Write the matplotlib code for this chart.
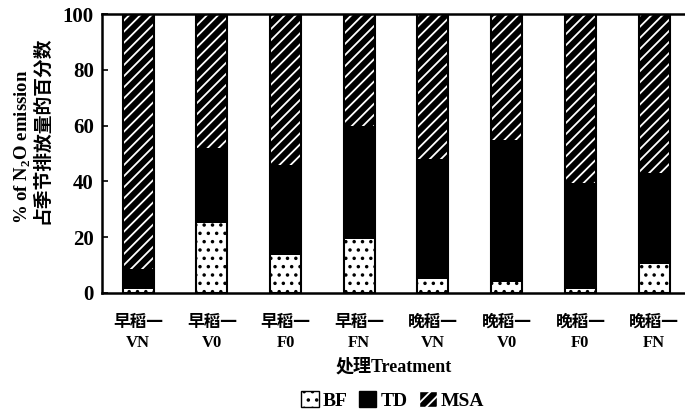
import numpy as np
import matplotlib
matplotlib.use('Agg')
import matplotlib.pyplot as plt
from matplotlib.patches import Patch

plt.rcParams['font.family'] = ['Liberation Serif', 'Noto Sans CJK SC']
plt.rcParams['font.weight'] = 'bold'
plt.rcParams['mathtext.fontset'] = 'custom'
plt.rcParams['mathtext.rm'] = 'Liberation Serif:bold'
plt.rcParams['mathtext.bf'] = 'Liberation Serif:bold'
plt.rcParams['hatch.linewidth'] = 1.3

treatments = ['早稻一\nVN', '早稻一\nV0', '早稻一\nF0', '早稻一\nFN',
              '晚稻一\nVN', '晚稻一\nV0', '晚稻一\nF0', '晚稻一\nFN']
bf = [1.5, 25, 13.5, 19.5, 5, 4, 1.5, 10.5]
td = [7, 27, 32.5, 40.5, 43, 51, 38, 32.5]
msa = [100 - a - b for a, b in zip(bf, td)]

x = np.arange(len(treatments))
w = 0.42

fig = plt.figure(figsize=(6.85, 4.12), dpi=100)
ax = fig.add_axes([0.149, 0.289, 0.851, 0.677])

# BF: white with black dots
ax.bar(x, bf, w, color='white', edgecolor='black', hatch='..', linewidth=0)
# TD: solid black
ax.bar(x, td, w, bottom=bf, color='black', linewidth=0)
# MSA: black with white diagonal lines
bottom_msa = [a + b for a, b in zip(bf, td)]
ax.bar(x, msa, w, bottom=bottom_msa, color='black', edgecolor='white',
       hatch='///', linewidth=0)
# outline around each full bar
ax.bar(x, [a + b + c for a, b, c in zip(bf, td, msa)], w, fill=False,
       edgecolor='black', linewidth=1.5)

ax.set_ylim(0, 100)
ax.set_xlim(-0.49, 7.42)
ax.set_yticks([0, 20, 40, 60, 80, 100])
ax.tick_params(axis='y', direction='in', length=4, labelsize=15, width=1.2, pad=6)
ax.tick_params(axis='x', length=0, labelsize=12, pad=16)
ax.set_xticks(x)
ax.set_xticklabels(treatments, fontweight='bold', linespacing=1.3)
for lbl in ax.get_yticklabels():
    lbl.set_fontweight('bold')
for s in ['top', 'left', 'bottom']:
    ax.spines[s].set_linewidth(1.8)
ax.spines['right'].set_visible(False)

ax.set_ylabel('% of N$_\\mathrm{2}$O emission\n占季节排放量的百分数',
              fontsize=13.5, fontweight='bold', linespacing=0.95,
              multialignment='left')
ax.yaxis.set_label_coords(-0.088, 0.585)
ax.set_xlabel('处理Treatment', fontsize=13, fontweight='bold', labelpad=5)

handles = [Patch(facecolor='white', edgecolor='black', hatch='..', label='BF'),
           Patch(facecolor='black', edgecolor='black', label='TD'),
           Patch(facecolor='black', edgecolor='white', hatch='///', label='MSA')]
leg = fig.legend(handles=handles, loc='center', bbox_to_anchor=(0.573, 0.028),
                 ncol=3, frameon=False, fontsize=14, handlelength=0.9,
                 handleheight=0.9, handletextpad=0.2, columnspacing=0.6)
for t in leg.get_texts():
    t.set_fontweight('bold')

fig.savefig('out.png', dpi=100)
